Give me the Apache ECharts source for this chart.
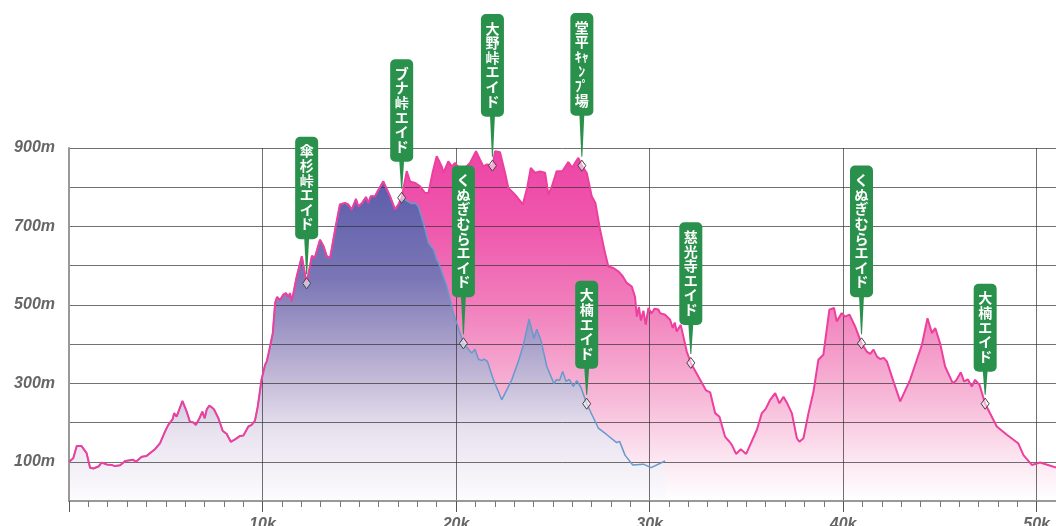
<!DOCTYPE html>
<html><head><meta charset="utf-8">
<script src="https://cdn.jsdelivr.net/npm/echarts@6/dist/echarts.min.js"></script>
<style>html,body{margin:0;padding:0;background:#fff}#c{width:1056px;height:526px}</style>
</head><body><div id="c"></div><script>
// ---- data (km, metres) ----
const fullKm = [0,0.22,0.4,0.65,0.91,1.09,1.26,1.52,1.69,1.95,2.2,2.38,2.64,2.9,3.32,3.46,3.76,4.01,4.44,4.7,4.96,5.13,5.36,5.43,5.56,5.86,6.08,6.25,6.43,6.56,6.74,6.89,7.01,7.12,7.25,7.37,7.49,7.72,7.94,8.15,8.36,8.58,8.84,9.01,9.27,9.44,9.61,9.75,9.95,10.13,10.22,10.35,10.53,10.65,10.75,10.9,11.07,11.21,11.33,11.42,11.51,11.77,12.03,12.28,12.55,12.7,12.97,13.15,13.32,13.49,13.75,14.0,14.26,14.43,14.61,14.83,14.95,15.15,15.35,15.47,15.59,15.81,15.95,16.24,16.42,16.59,16.85,17.02,17.19,
17.45,17.62,17.88,18.14,18.4,18.57,18.8,19.0,19.09,19.26,19.35,19.6,19.78,19.95,20.2,20.47,20.72,21.03,21.24,21.41,21.6,21.88,22.02,22.27,22.53,22.7,23.05,23.45,23.69,23.86,24.08,24.35,24.6,24.77,24.95,25.2,25.5,25.8,26.0,26.15,26.32,26.5,26.75,27.01,27.2,27.44,27.7,27.87,28.13,28.4,28.61,28.82,29.08,29.25,29.34,29.45,29.55,29.68,29.8,29.94,30.1,30.25,30.46,30.54,30.8,31.06,31.2,31.3,31.4,31.61,31.92,32.13,32.61,32.92,33.13,33.39,33.61,33.9,34.0,34.13,34.25,34.47,34.71,34.99,35.54,35.8,36.0,36.23,36.49,36.71,36.92,37.1,37.35,37.61,37.74,37.95,38.21,38.47,38.72,38.98,39.29,39.53,39.67,39.93,40.1,40.33,40.62,40.95,41.22,41.4,41.57,41.75,41.91,42.1,42.26,42.6,42.95,43.46,43.81,44.07,44.36,44.59,44.76,45.01,45.27,45.67,45.85,46.08,46.25,46.45,46.65,46.82,47.05,47.34,47.94,48.46,48.94,49.05,49.32,49.75,50.18,51.0];
const fullElev = [100,109,140,140,122,85,83,88,98,93,92,89,91,102,105,100,113,115,132,147,177,194,209,224,215,255,228,202,200,194,211,228,211,234,243,239,234,211,179,171,151,157,166,167,190,194,205,240,310,347,356,385,428,505,520,512,526,530,520,530,509,573,624,555,625,620,666,650,624,620,692,756,760,756,743,770,751,760,775,760,777,777,790,815,795,777,743,756,773,
841,815,811,802,785,785,840,879,883,853,837,866,853,862,845,849,862,892,870,853,858,855,892,889,837,798,781,756,802,849,837,840,837,781,802,841,841,864,850,862,875,855,837,777,760,692,632,598,594,585,573,556,547,520,470,495,460,485,450,492,478,490,488,479,475,462,441,455,432,449,381,352,309,282,277,224,215,164,158,151,143,120,132,120,181,224,235,258,275,249,266,250,224,160,151,160,224,279,360,373,488,492,458,479,470,475,445,402,381,375,386,368,362,365,356,305,254,309,360,398,466,428,441,402,343,300,308,328,305,310,292,309,296,248,190,169,151,147,117,92,98,85];
// short course: shares the full course up to splitKm, then its own tail
const splitKm = 17.19;
const shortTailKm = [17.45,17.7,17.88,18.05,18.31,18.57,18.83,19.0,19.17,19.52,19.86,20.21,20.38,20.81,20.98,21.15,21.33,21.45,21.62,21.93,22.36,22.88,23.22,23.48,23.77,24.03,24.17,24.39,24.69,25.06,25.17,25.35,25.51,25.68,25.85,26.06,26.24,26.45,26.75,27.35,27.79,28.3,28.45,28.73,29.13,29.68,30.08,30.8];
const shortTailElev = [765,758,760,751,709,658,641,615,598,547,479,428,402,377,387,362,358,362,356,309,258,309,356,398,464,415,438,409,343,299,309,308,330,305,310,292,307,290,248,186,169,149,152,117,92,94,85,102];
// aid stations
const aidNames = ['傘杉峠エイド','ブナ峠エイド','大野峠エイド','堂平ｷｬﾝﾌﾟ場','くぬぎむらエイド','大楠エイド','慈光寺エイド','くぬぎむらエイド','大楠エイド'];
const aidKm = [12.28,17.19,21.88,26.5,20.38,26.75,32.13,40.95,47.34];
const aidElev = [555,773,855,855,402,248,352,402,248];
// tick labels
const yLabelValues = [100,300,500,700,900];
const xLabelValues = [10,20,30,40,50];

// ---- layout / style ----
const flagLift = [44,36,49,50,46,35,38,46,32];
const GREEN = '#2a914c';

const fullData = fullKm.map((k,i)=>[k, fullElev[i]]);
const shortData = fullKm.map((k,i)=>[k, fullElev[i]]).filter(p=>p[0]<=splitKm)
  .concat(shortTailKm.map((k,i)=>[k, shortTailElev[i]]));
const aidData = aidKm.map((k,i)=>[k, aidElev[i]]);

function verticalLines(name){
  const out=[];
  for (const ch of name){
    if (/[\uFF67-\uFF6F\uFF9E\uFF9F]/.test(ch) && out.length) out[out.length-1]+=ch;
    else out.push(ch);
  }
  return out;
}

function renderFlag(params, api){
  const i = params.dataIndex;
  const p = api.coord([api.value(0), api.value(1)]);
  const lines = verticalLines(aidNames[i]);
  const pitch=14.6, padT=7, padB=8, w=23;
  const h = lines.length*pitch + padT + padB;
  const bottom = p[1] - flagLift[i];
  const top = bottom - h;
  const tipY = p[1] - 9;
  return {type:'group', children:[
    {type:'polygon', shape:{points:[[p[0]-2.5,bottom-2],[p[0]+2.5,bottom-2],[p[0]+0.5,tipY],[p[0]-0.5,tipY]]}, style:{fill:GREEN}},
    {type:'rect', shape:{x:p[0]-w/2, y:top, width:w, height:h, r:5}, style:{fill:GREEN}},
    {type:'text', style:{x:p[0], y:top+padT, text:lines.join('\n'), fill:'#fff', font:'bold 14px "Noto Sans CJK JP"', align:'center', verticalAlign:'top', lineHeight:pitch}},
    {type:'polygon', shape:{points:[[p[0],p[1]-5.5],[p[0]+4,p[1]],[p[0],p[1]+5.5],[p[0]-4,p[1]]]}, style:{fill:'rgba(255,255,255,0.55)', stroke:'#444', lineWidth:1}}
  ]};
}

const grad = (stops)=>new echarts.graphic.LinearGradient(0,0,0,1, stops.map(s=>({offset:s[0], color:s[1]})));
const axisFont = {color:'#666', fontSize:16, fontWeight:'bold', fontStyle:'italic', fontFamily:'Liberation Sans, Arial, sans-serif'};
const gridLine = {color:'rgba(45,45,45,0.68)', width:1};

const chart = echarts.init(document.getElementById('c'), null, {renderer:'canvas'});
chart.setOption({
  animation:false,
  grid:{left:69, right:0, top:148, bottom:25, containLabel:false, outerBoundsMode:'none'},
  xAxis:[
    {type:'value', min:0, max:51, interval:1, position:'bottom', z:3,
     axisLine:{show:true, onZero:false, lineStyle:{color:'#999', width:2}},
     axisTick:{show:true, length:6, lineStyle:{color:'#777'}},
     axisLabel:{show:false}, splitLine:{show:false}},
    {type:'value', min:0, max:51, interval:10, position:'bottom', z:3,
     axisLine:{show:false},
     axisTick:{show:true, length:11, lineStyle:{color:'#555'}},
     axisLabel:Object.assign({margin:16, formatter:v=>xLabelValues.includes(v)? v+'k':''}, axisFont),
     splitLine:{show:true, lineStyle:gridLine}}
  ],
  yAxis:{type:'value', min:0, max:900, interval:100, z:3,
    axisLine:{show:true, lineStyle:{color:'#999', width:2}},
    axisTick:{show:false},
    axisLabel:Object.assign({margin:14, formatter:v=>yLabelValues.includes(v)? v+'m':''}, axisFont),
    splitLine:{show:true, lineStyle:gridLine}},
  series:[
    {type:'line', name:'full-area', data:fullData, showSymbol:false, z:2, lineStyle:{width:0},
     areaStyle:{opacity:1, color:grad([[0,'#ee44a5'],[0.23,'#ef5aae'],[0.43,'#f17cbb'],[0.71,'#f7bad8'],[0.88,'#fce6f1'],[1,'#ffffff']])}},
    {type:'line', name:'short-area', data:shortData, showSymbol:false, z:2, lineStyle:{width:0},
     areaStyle:{opacity:1, color:grad([[0,'#5c5caa'],[0.3,'#7a76b6'],[0.45,'#9c94c4'],[0.62,'#c4bbd8'],[0.78,'#e8e2ef'],[1,'#fdfcfe']])}},
    {type:'line', name:'short-line', data:shortData, showSymbol:false, z:5, lineStyle:{width:1.5, color:'#6699cc'}},
    {type:'line', name:'full-line', data:fullData, showSymbol:false, z:5, lineStyle:{width:2, color:'#ec3f9e'}},
    {type:'custom', name:'aid', data:aidData, z:10, renderItem:renderFlag, encode:{x:0,y:1}, clip:false}
  ]
});
</script></body></html>
